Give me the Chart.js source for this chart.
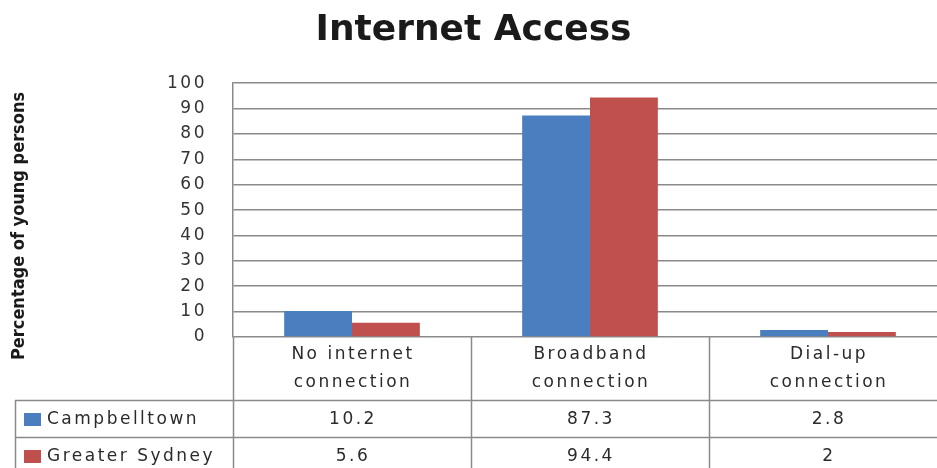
<!DOCTYPE html>
<html>
<head>
<meta charset="utf-8">
<script src="https://cdn.jsdelivr.net/npm/chart.js@4.4.0/dist/chart.umd.min.js"></script>
<style>
  html, body { margin: 0; padding: 0; background: #fff; overflow: hidden; }
  /* plot is a bit wider than the window, the right edge is cut off like in the source */
  #wrap { width: 947px; height: 468px; }
</style>
</head>
<body>
<div id="wrap"><canvas id="chart"></canvas></div>
<script>
// data
const categories = [['No internet', 'connection'], ['Broadband', 'connection'], ['Dial-up', 'connection']];
const seriesNames = ['Campbelltown', 'Greater Sydney'];
const campbelltown = [10.2, 87.3, 2.8];
const greaterSydney = [5.6, 94.4, 2];
const yTicks = [0, 10, 20, 30, 40, 50, 60, 70, 80, 90, 100];
const yTitle = 'Percentage of young persons';

const seriesColors = ['#4A7EBF', '#C0504D'];
const lineColor = '#8a8a8a';
const textColor = '#2b2b2b';
const textFont = '"DejaVu Sans", Verdana, sans-serif';

// wide letter spacing for the tick labels (ticks are drawn on layer z=1, after datasets)
const spacingPlugin = {
    id: 'spacing',
    beforeDraw(chart) {
        chart.ctx.letterSpacing = '0px';
    },
    afterDatasetsDraw(chart) {
        chart.ctx.letterSpacing = '2.5px';
    }
};

// data table under the plot (category labels, values, legend keys) + y title
const dataTablePlugin = {
    id: 'dataTable',
    afterDraw(chart) {
        const ctx = chart.ctx;
        const area = chart.chartArea;
        const colW = (area.right - area.left) / categories.length;
        const headTop = area.bottom;
        const row1 = headTop + 63;
        const row2 = row1 + 37;
        const bottom = chart.height;
        const tableLeft = 15;
        const rows = [campbelltown, greaterSydney];

        ctx.save();
        ctx.letterSpacing = '0px';
        ctx.strokeStyle = lineColor;
        ctx.lineWidth = 1.5;
        ctx.beginPath();
        for (let i = 0; i < categories.length; i++) {
            const x = Math.round(area.left + i * colW) + 0.5;
            ctx.moveTo(x, headTop);
            ctx.lineTo(x, bottom);
        }
        ctx.moveTo(tableLeft + 0.5, row1);
        ctx.lineTo(tableLeft + 0.5, bottom);
        ctx.moveTo(tableLeft, row1 + 0.5);
        ctx.lineTo(area.right, row1 + 0.5);
        ctx.moveTo(tableLeft, row2 + 0.5);
        ctx.lineTo(area.right, row2 + 0.5);
        ctx.stroke();

        ctx.fillStyle = textColor;
        ctx.font = '17px ' + textFont;
        ctx.letterSpacing = '2.5px';
        ctx.textAlign = 'center';
        ctx.textBaseline = 'middle';
        categories.forEach((lines, i) => {
            const cx = area.left + (i + 0.5) * colW + 1;
            lines.forEach((t, j) => ctx.fillText(t, cx, headTop + 18 + j * 28));
            rows.forEach((vals, r) => {
                const cy = (r === 0 ? row1 : row2) + 20;
                ctx.fillText(String(vals[i]), cx, cy);
            });
        });

        ctx.textAlign = 'left';
        seriesNames.forEach((name, r) => {
            const cy = (r === 0 ? row1 : row2) + 19;
            ctx.fillStyle = seriesColors[r];
            ctx.fillRect(tableLeft + 9, cy - 6, 17, 13);
            ctx.fillStyle = textColor;
            ctx.fillText(name, tableLeft + 32, cy + 1);
        });

        // rotated axis title
        ctx.letterSpacing = '0px';
        ctx.translate(19, 226);
        ctx.rotate(-Math.PI / 2);
        ctx.textAlign = 'center';
        ctx.fillStyle = '#1a1a1a';
        ctx.font = 'bold 18px "Liberation Sans Narrow", "DejaVu Sans Condensed", sans-serif';
        ctx.fillText(yTitle, 0, 0);
        ctx.restore();
    }
};

new Chart(document.getElementById('chart'), {
    type: 'bar',
    data: {
        labels: categories.map(c => c.join(' ')),
        datasets: [
            {
                label: seriesNames[0],
                data: campbelltown,
                backgroundColor: seriesColors[0],
                categoryPercentage: 0.57,
                barPercentage: 1
            },
            {
                label: seriesNames[1],
                data: greaterSydney,
                backgroundColor: seriesColors[1],
                categoryPercentage: 0.57,
                barPercentage: 1
            }
        ]
    },
    options: {
        responsive: true,
        maintainAspectRatio: false,
        animation: false,
        layout: {
            padding: { top: 0, right: 0, bottom: 131, left: 0 }
        },
        plugins: {
            legend: { display: false },
            tooltip: { enabled: false },
            title: {
                display: true,
                text: 'Internet Access',
                color: '#1a1a1a',
                font: { size: 36, weight: 'bold', family: textFont, lineHeight: 1.2 },
                padding: { top: 9, bottom: 31 }
            }
        },
        scales: {
            x: {
                display: false
            },
            y: {
                min: 0,
                max: 100,
                afterBuildTicks(scale) {
                    scale.ticks = yTicks.map(v => ({ value: v }));
                },
                afterFit(scale) {
                    scale.width = 233;
                },
                grid: {
                    color: lineColor,
                    lineWidth: 1.5,
                    drawTicks: false
                },
                border: { display: true, color: lineColor, width: 1.5 },
                ticks: {
                    z: 1,
                    padding: 26,
                    color: '#333',
                    font: { size: 17, family: textFont }
                }
            }
        }
    },
    plugins: [spacingPlugin, dataTablePlugin]
});
</script>
</body>
</html>
